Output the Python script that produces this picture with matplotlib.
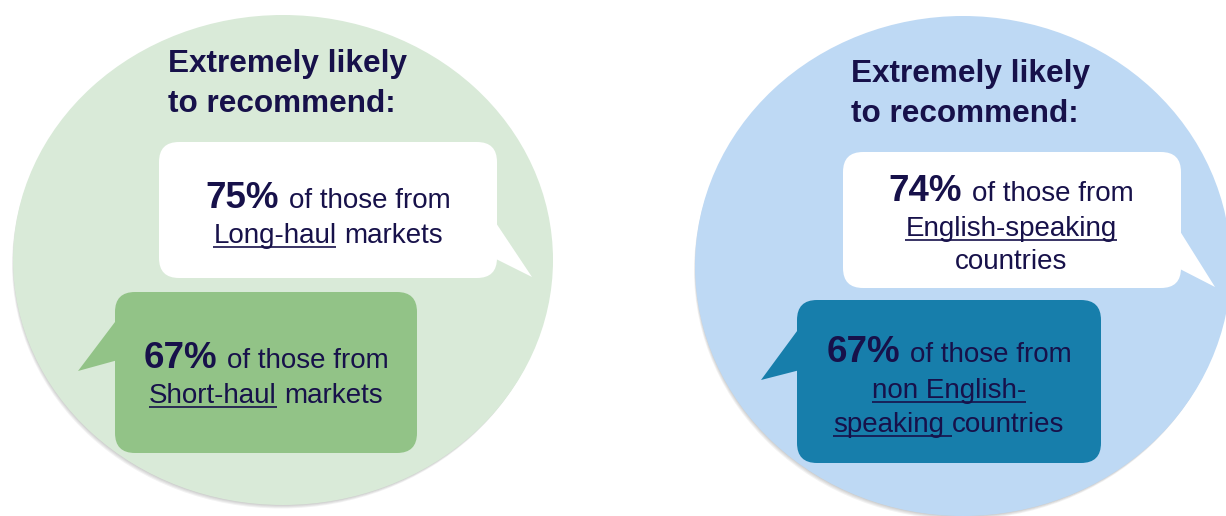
import matplotlib
matplotlib.use("Agg")
import matplotlib.pyplot as plt
from matplotlib.patches import Ellipse, FancyBboxPatch, Polygon

# Data: share of visitors extremely likely to recommend
title_lines = ["Extremely likely", "to recommend:"]
left_shares = [75, 67]
left_groups = ["Long-haul", "Short-haul"]
left_suffix = "markets"
right_shares = [74, 67]
right_groups = ["English-speaking", "non English-speaking"]
right_suffix = "countries"

FONT = ["Liberation Sans", "DejaVu Sans"]
INK = "#17114a"
PCT_SIZE = 26.5
TXT_SIZE = 20
TITLE_SIZE = 22.7

fig = plt.figure(figsize=(12.26, 5.16), dpi=100)
ax = fig.add_axes([0, 0, 1, 1])
ax.set_xlim(0, 1226)
ax.set_ylim(516, 0)
ax.axis("off")
renderer = fig.canvas.get_renderer()


def measure(s, size, weight):
    t = ax.text(0, 0, s, fontsize=size, fontweight=weight, family=FONT)
    w = t.get_window_extent(renderer).width
    t.remove()
    return w


def space_width(size, weight):
    return measure("a a", size, weight) - measure("aa", size, weight)


def draw_line(cx, y, parts):
    # parts: (text, size, weight, underline, trailing space underlined)
    widths = [measure(p[0], p[1], p[2]) for p in parts]
    # the space between two parts takes the font of the part before it
    gaps = [0] + [space_width(p[1], p[2]) for p in parts[:-1]]
    total = sum(widths) + sum(gaps)
    x = cx - total / 2
    for p, w, g in zip(parts, widths, gaps):
        x += g
        ax.text(x, y, p[0], fontsize=p[1], fontweight=p[2], family=FONT,
                color=INK, ha="left", va="baseline", zorder=5)
        if p[3]:
            extra = space_width(p[1], p[2]) if p[4] else 0
            ax.plot([x, x + w + extra], [y + 4, y + 4], color=INK, lw=1.2,
                    solid_capstyle="butt", zorder=5)
        x += w


def pct_line(v):
    return [(f"{v}%", PCT_SIZE, "bold", False, False),
            ("of those from", TXT_SIZE, "normal", False, False)]


def bubble(x0, y0, x1, y1, tail, color):
    ax.add_patch(FancyBboxPatch((x0, y0), x1 - x0, y1 - y0,
                                boxstyle="round,pad=0,rounding_size=20",
                                fc=color, ec="none", zorder=3))
    ax.add_patch(Polygon(tail, closed=True, fc=color, ec="none", zorder=3))


# background circles with a soft drop shadow towards the bottom left
for cx, cy, w, h, col in [(283, 260, 540, 490, "#d9ead8"),
                          (963, 266, 536, 500, "#bed9f4")]:
    for k in range(4):
        ax.add_patch(Ellipse((cx - 0.5 - k * 0.5, cy + 1.5 + k * 1.0),
                             w - 2, h - 2, fc="#000000", alpha=0.05,
                             ec="none", zorder=1))
    ax.add_patch(Ellipse((cx, cy), w, h, fc=col, ec="none", zorder=2))

# titles
for x, y0 in [(168, 72), (851, 82)]:
    for i, line in enumerate(title_lines):
        ax.text(x, y0 + i * 40, line, fontsize=TITLE_SIZE, fontweight="bold",
                family=FONT, color=INK, ha="left", va="baseline", zorder=5)

# left panel bubbles
bubble(159, 142, 497, 278, [(494, 220), (532, 277), (494, 258)], "#ffffff")
draw_line(328, 208, pct_line(left_shares[0]))
draw_line(328, 243, [(left_groups[0], TXT_SIZE, "normal", True, False),
                     (left_suffix, TXT_SIZE, "normal", False, False)])

bubble(115, 292, 417, 453, [(118, 318), (78, 371), (118, 360)], "#92c387")
draw_line(266, 368, pct_line(left_shares[1]))
draw_line(266, 403, [(left_groups[1], TXT_SIZE, "normal", True, False),
                     (left_suffix, TXT_SIZE, "normal", False, False)])

# right panel bubbles
bubble(843, 152, 1181, 288, [(1178, 228), (1215, 287), (1178, 268)], "#ffffff")
draw_line(1011, 201, pct_line(right_shares[0]))
draw_line(1011, 236, [(right_groups[0], TXT_SIZE, "normal", True, False)])
draw_line(1011, 269, [(right_suffix, TXT_SIZE, "normal", False, False)])

head, rest = right_groups[1].rsplit("-", 1)
bubble(797, 300, 1101, 463, [(800, 327), (761, 380), (800, 370)], "#177eab")
draw_line(949, 362, pct_line(right_shares[1]))
draw_line(949, 398, [(head + "-", TXT_SIZE, "normal", True, False)])
draw_line(949, 432, [(rest, TXT_SIZE, "normal", True, True),
                     (right_suffix, TXT_SIZE, "normal", False, False)])

fig.savefig("out.png", dpi=100)
